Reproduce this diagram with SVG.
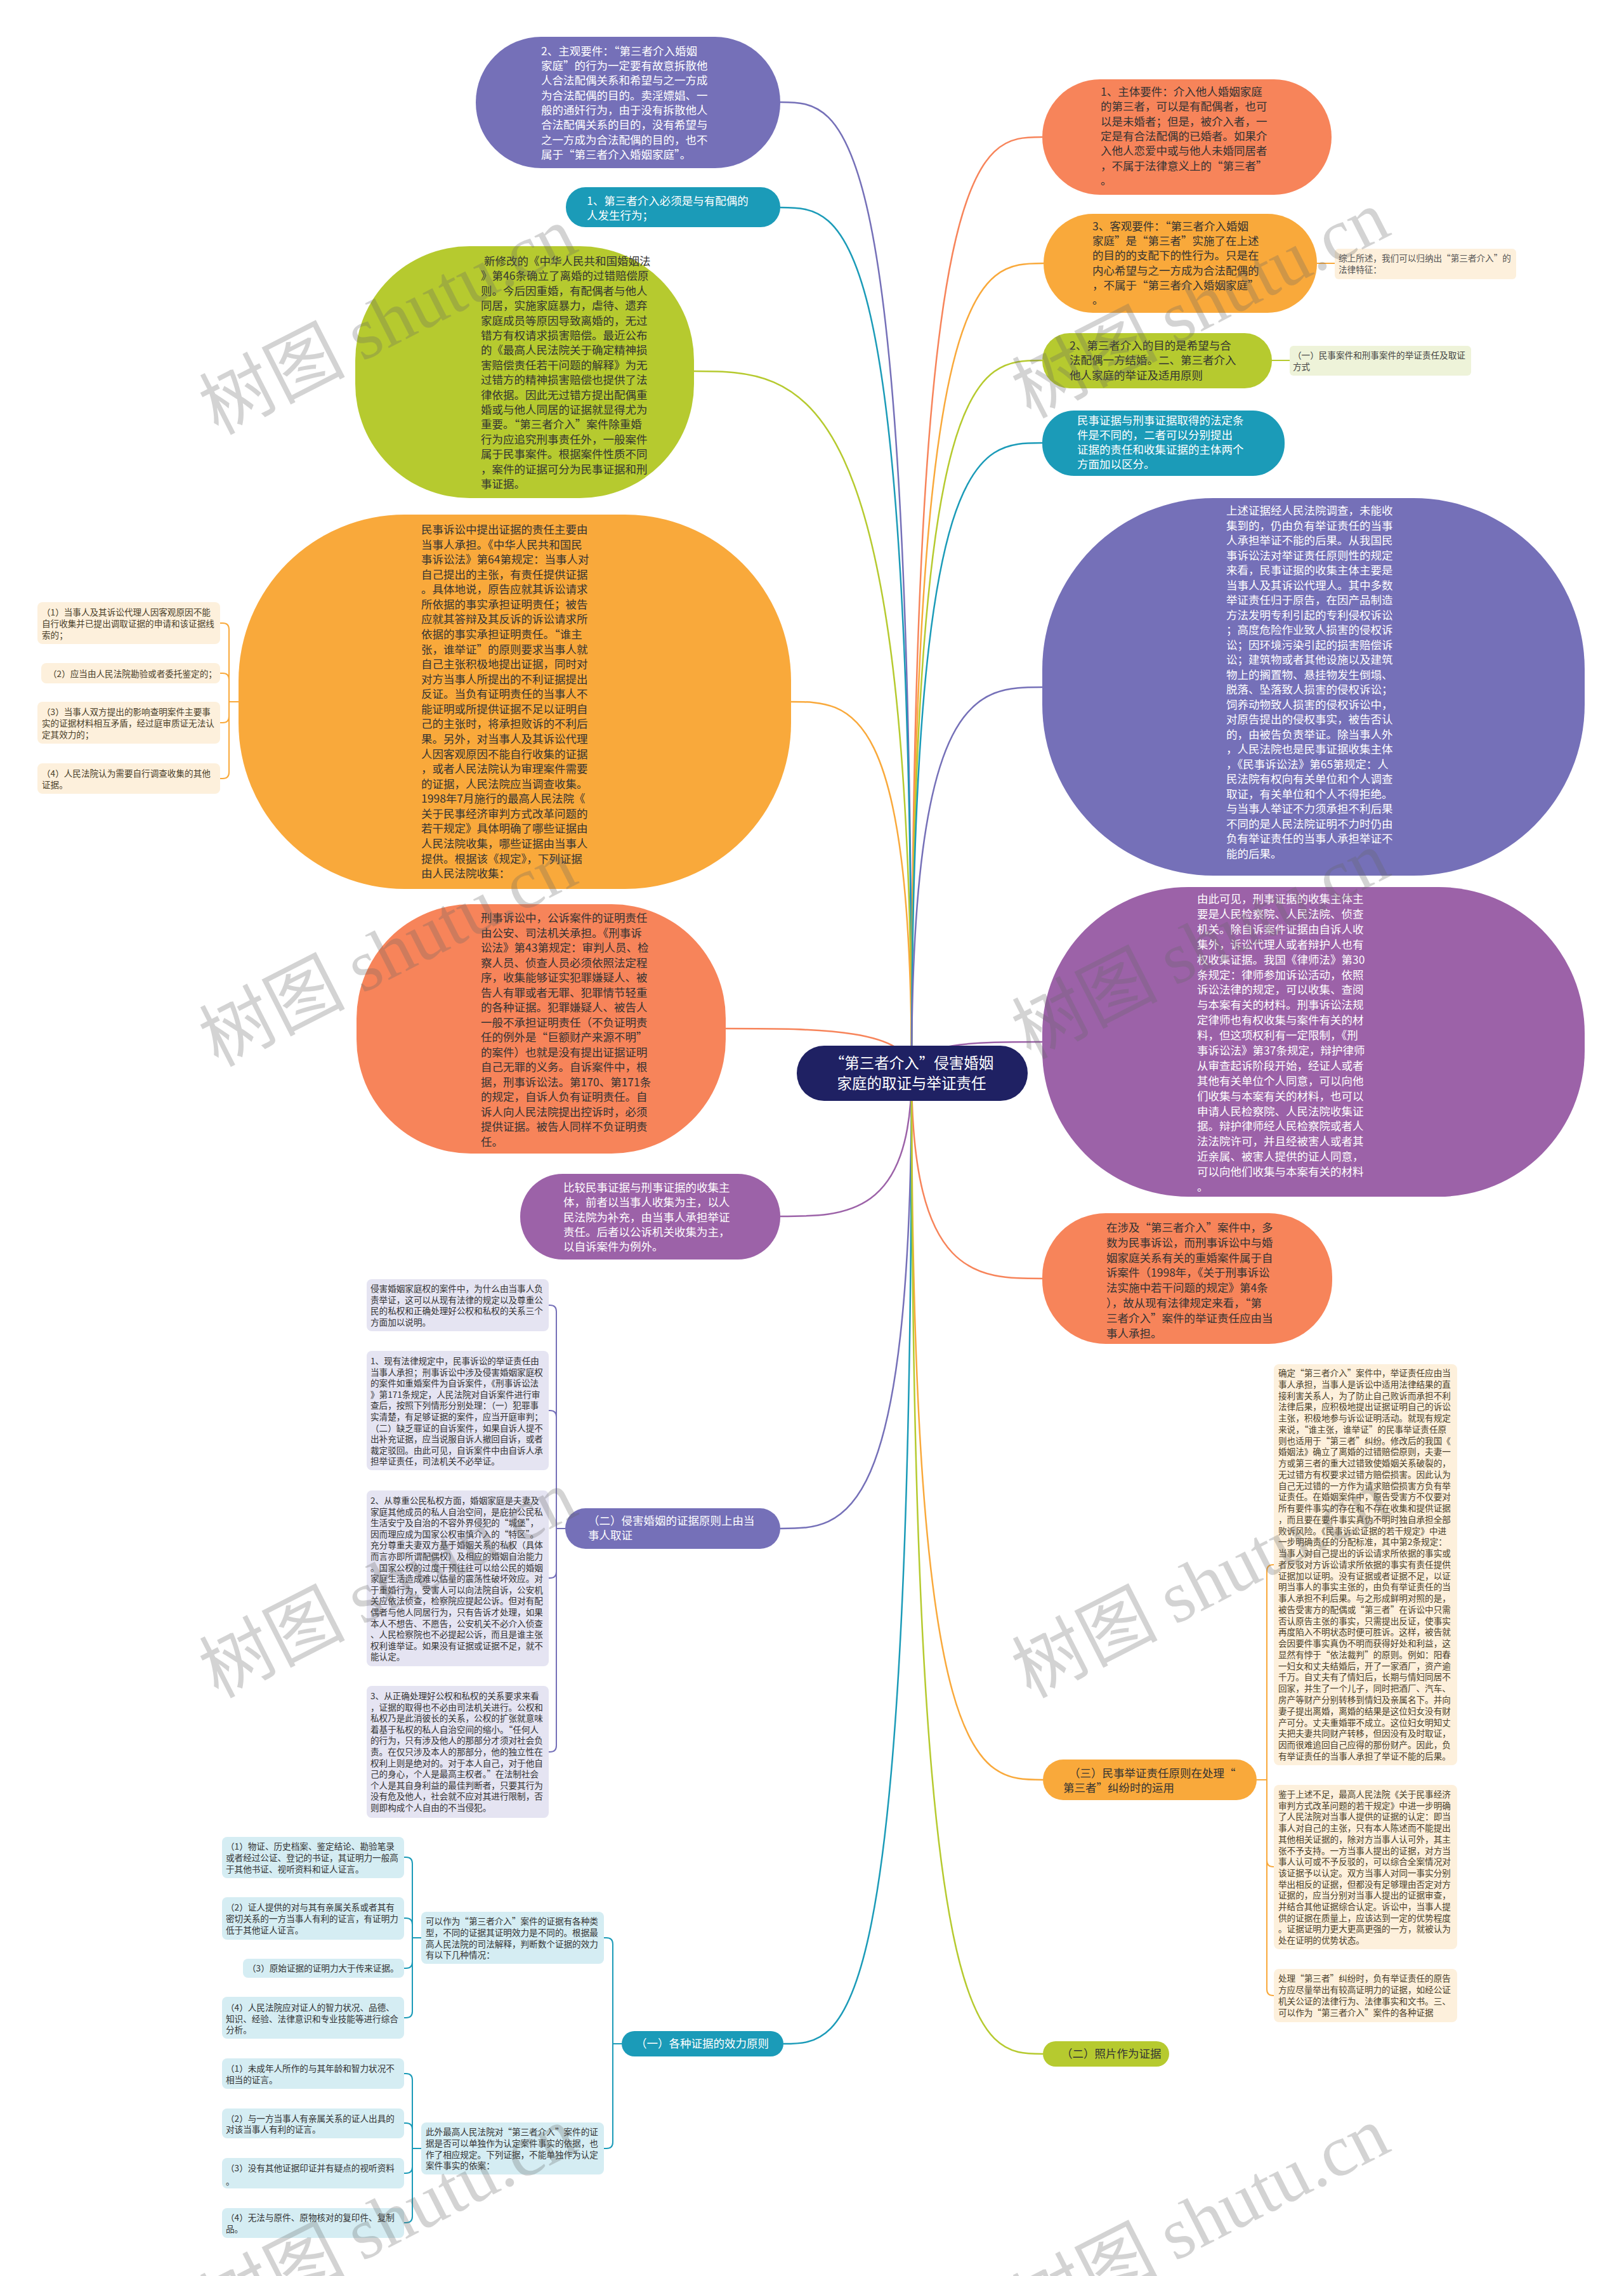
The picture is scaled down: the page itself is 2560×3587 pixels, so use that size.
<svg xmlns="http://www.w3.org/2000/svg" width="2560" height="3587" viewBox="0 0 2560 3587">
<style>
text{font-family:"Noto Sans CJK SC","Noto Sans",sans-serif}
.b{font-size:17.5px}
.s{font-size:13.6px}
.w{fill:#ffffff}
.d{fill:#333333}
.br{fill:#4a3f2a}
.ln{fill:none;stroke-width:2.5}
.bk{fill:none;stroke-width:2}
.cPB{fill:#7570b8}.sPB{stroke:#7570b8}
.cTL{fill:#1b9bb8}.sTL{stroke:#1b9bb8}
.cGR{fill:#b6ca2f}.sGR{stroke:#b6ca2f}
.cOR{fill:#f9a93b}.sOR{stroke:#f9a93b}
.cRD{fill:#f7845a}.sRD{stroke:#f7845a}
.cPU{fill:#9c62a8}.sPU{stroke:#9c62a8}
.cream{fill:#fdf0dc}
.lav{fill:#e5e4f2}
.lblue{fill:#d5edf3}
.wm{fill:#666666;opacity:0.28;font-size:115px}
</style>
<rect width="2560" height="3587" fill="#ffffff"/>
<g id="connectors">
<path class="ln sPB" d="M1437 1691 C1437 161 1333 161 1230 161"/>
<path class="ln sTL" d="M1437 1691 C1437 327 1333 327 1230 327"/>
<path class="ln sGR" d="M1437 1691 C1437 585 1265 585 1094 585"/>
<path class="ln sOR" d="M1437 1691 C1437 1106 1342 1106 1247 1106"/>
<path class="ln sRD" d="M1437 1691 C1437 1621 1290 1621 1144 1621"/>
<path class="ln sPU" d="M1437 1691 C1437 1917 1333 1917 1230 1917"/>
<path class="ln sPB" d="M1437 1691 C1437 2409 1333 2409 1230 2409"/>
<path class="ln sTL" d="M1437 1691 C1437 3221 1336 3221 1235 3221"/>
<path class="ln sRD" d="M1437 1691 C1437 216 1540 216 1643 216"/>
<path class="ln sOR" d="M1437 1691 C1437 415 1541 415 1645 415"/>
<path class="ln sGR" d="M1437 1691 C1437 568 1540 568 1643 568"/>
<path class="ln sTL" d="M1437 1691 C1437 698 1540 698 1643 698"/>
<path class="ln sPB" d="M1437 1691 C1437 1083 1540 1083 1643 1083"/>
<path class="ln sPU" d="M1437 1691 C1437 1642 1540 1642 1643 1642"/>
<path class="ln sRD" d="M1437 1691 C1437 2015 1540 2015 1643 2015"/>
<path class="ln sOR" d="M1437 1691 C1437 2805 1540 2805 1644 2805"/>
<path class="ln sGR" d="M1437 1691 C1437 3237 1540 3237 1644 3237"/>
<path class="bk sOR" d="M2076 415 L2104 415"/>
<path class="bk sGR" d="M2005 568 L2033 568"/>
<path class="bk sOR" d="M376 1106 H361 V992 Q361 982 351 982 H347"/>
<path class="bk sOR" d="M376 1106 H361 V1071 Q361 1061 351 1061 H347"/>
<path class="bk sOR" d="M376 1106 H361 V1129 Q361 1139 351 1139 H347"/>
<path class="bk sOR" d="M376 1106 H361 V1217 Q361 1227 351 1227 H347"/>
<path class="bk sPB" d="M891 2409 H877 V2067 Q877 2057 867 2057 H865"/>
<path class="bk sPB" d="M891 2409 H877 V2233 Q877 2223 867 2223 H865"/>
<path class="bk sPB" d="M891 2409 H877 V2477 Q877 2487 867 2487 H865"/>
<path class="bk sPB" d="M891 2409 H877 V2751 Q877 2761 867 2761 H865"/>
<path class="bk sOR" d="M1981 2805 H1997 V2476 Q1997 2466 2007 2466 H2009"/>
<path class="bk sOR" d="M1981 2805 H1997 V2932 Q1997 2942 2007 2942 H2009"/>
<path class="bk sOR" d="M1981 2805 H1997 V3135 Q1997 3145 2007 3145 H2009"/>
<path class="bk sTL" d="M980 3221 H966 V3064 Q966 3054 956 3054 H952"/>
<path class="bk sTL" d="M980 3221 H966 V3376 Q966 3386 956 3386 H952"/>
<path class="bk sTL" d="M664 3054 H650 V2937 Q650 2927 640 2927 H637"/>
<path class="bk sTL" d="M664 3054 H650 V3033 Q650 3023 640 3023 H637"/>
<path class="bk sTL" d="M664 3054 H650 V3092 Q650 3102 640 3102 H637"/>
<path class="bk sTL" d="M664 3054 H650 V3170 Q650 3180 640 3180 H637"/>
<path class="bk sTL" d="M664 3386 H650 V3278 Q650 3268 640 3268 H637"/>
<path class="bk sTL" d="M664 3386 H650 V3356 Q650 3346 640 3346 H637"/>
<path class="bk sTL" d="M664 3386 H650 V3415 Q650 3425 640 3425 H637"/>
<path class="bk sTL" d="M664 3386 H650 V3493 Q650 3503 640 3503 H637"/>
</g>

<g id="root">
<rect x="1256" y="1648" width="364" height="87" rx="43" fill="#1f2163"/>
<text class="w" font-size="23.5" text-anchor="middle"><tspan x="1437" y="1684">“第三者介入”侵害婚姻</tspan><tspan x="1437" y="1716">家庭的取证与举证责任</tspan></text>
</g>

<g id="n-subjective">
<rect class="cPB" x="750" y="58" width="480" height="207" rx="103"/>
<text class="b w"><tspan x="853" y="87">2、主观要件：“第三者介入婚姻</tspan><tspan x="853" y="110">家庭”的行为一定要有故意拆散他</tspan><tspan x="853" y="133">人合法配偶关系和希望与之一方成</tspan><tspan x="853" y="157">为合法配偶的目的。卖淫嫖娼、一</tspan><tspan x="853" y="180">般的通奸行为，由于没有拆散他人</tspan><tspan x="853" y="203">合法配偶关系的目的，没有希望与</tspan><tspan x="853" y="227">之一方成为合法配偶的目的，也不</tspan><tspan x="853" y="250">属于“第三者介入婚姻家庭”。</tspan></text>
</g>

<g id="n-married">
<rect class="cTL" x="892" y="295" width="338" height="63" rx="31"/>
<text class="b w"><tspan x="925" y="323">1、第三者介入必须是与有配偶的</tspan><tspan x="925" y="346">人发生行为；</tspan></text>
</g>

<g id="n-marriagelaw">
<rect class="cGR" x="560" y="388" width="534" height="397" rx="180"/>
<text class="b d"><tspan x="763" y="418">新修改的《中华人民共和国婚姻法</tspan><tspan x="758" y="441">》第46条确立了离婚的过错赔偿原</tspan><tspan x="758" y="465">则。今后因重婚，有配偶者与他人</tspan><tspan x="758" y="488">同居，实施家庭暴力，虐待、遗弃</tspan><tspan x="758" y="512">家庭成员等原因导致离婚的，无过</tspan><tspan x="758" y="535">错方有权请求损害赔偿。最近公布</tspan><tspan x="758" y="558">的《最高人民法院关于确定精神损</tspan><tspan x="758" y="582">害赔偿责任若干问题的解释》为无</tspan><tspan x="758" y="605">过错方的精神损害赔偿也提供了法</tspan><tspan x="758" y="629">律依据。因此无过错方提出配偶重</tspan><tspan x="758" y="652">婚或与他人同居的证据就显得尤为</tspan><tspan x="758" y="675">重要。“第三者介入”案件除重婚</tspan><tspan x="758" y="699">行为应追究刑事责任外，一般案件</tspan><tspan x="758" y="722">属于民事案件。根据案件性质不同</tspan><tspan x="758" y="746">，案件的证据可分为民事证据和刑</tspan><tspan x="758" y="769">事证据。</tspan></text>
</g>

<g id="n-civil-burden">
<rect class="cOR" x="376" y="811" width="871" height="590" rx="262"/>
<text class="b d"><tspan x="664" y="841">民事诉讼中提出证据的责任主要由</tspan><tspan x="664" y="865">当事人承担。《中华人民共和国民</tspan><tspan x="664" y="888">事诉讼法》第64第规定：当事人对</tspan><tspan x="664" y="912">自己提出的主张，有责任提供证据</tspan><tspan x="664" y="935">。具体地说，原告应就其诉讼请求</tspan><tspan x="664" y="959">所依据的事实承担证明责任；被告</tspan><tspan x="664" y="982">应就其答辩及其反诉的诉讼请求所</tspan><tspan x="664" y="1006">依据的事实承担证明责任。“谁主</tspan><tspan x="664" y="1030">张，谁举证”的原则要求当事人就</tspan><tspan x="664" y="1053">自己主张积极地提出证据，同时对</tspan><tspan x="664" y="1077">对方当事人所提出的不利证据提出</tspan><tspan x="664" y="1100">反证。当负有证明责任的当事人不</tspan><tspan x="664" y="1124">能证明或所提供证据不足以证明自</tspan><tspan x="664" y="1147">己的主张时，将承担败诉的不利后</tspan><tspan x="664" y="1171">果。另外，对当事人及其诉讼代理</tspan><tspan x="664" y="1195">人因客观原因不能自行收集的证据</tspan><tspan x="664" y="1218">，或者人民法院认为审理案件需要</tspan><tspan x="664" y="1242">的证据，人民法院应当调查收集。</tspan><tspan x="664" y="1265">1998年7月施行的最高人民法院《</tspan><tspan x="664" y="1289">关于民事经济审判方式改革问题的</tspan><tspan x="664" y="1312">若干规定》具体明确了哪些证据由</tspan><tspan x="664" y="1336">人民法院收集，哪些证据由当事人</tspan><tspan x="664" y="1360">提供。根据该《规定》，下列证据</tspan><tspan x="664" y="1383">由人民法院收集：</tspan></text>
</g>

<g id="n-court-collect-1">
<rect class="cream" x="59" y="949" width="288" height="66" rx="8"/>
<text class="s br"><tspan x="66" y="970">（1）当事人及其诉讼代理人因客观原因不能</tspan><tspan x="66" y="988">自行收集并已提出调取证据的申请和该证据线</tspan><tspan x="66" y="1006">索的；</tspan></text>
</g>
<g id="n-court-collect-2">
<rect class="cream" x="65" y="1045" width="282" height="32" rx="8"/>
<text class="s br"><tspan x="76" y="1067">（2）应当由人民法院勘验或者委托鉴定的；</tspan></text>
</g>
<g id="n-court-collect-3">
<rect class="cream" x="59" y="1106" width="288" height="66" rx="8"/>
<text class="s br"><tspan x="66" y="1127">（3）当事人双方提出的影响查明案件主要事</tspan><tspan x="66" y="1145">实的证据材料相互矛盾，经过庭审质证无法认</tspan><tspan x="66" y="1163">定其效力的；</tspan></text>
</g>
<g id="n-court-collect-4">
<rect class="cream" x="59" y="1203" width="288" height="48" rx="8"/>
<text class="s br"><tspan x="66" y="1224">（4）人民法院认为需要自行调查收集的其他</tspan><tspan x="66" y="1242">证据。</tspan></text>
</g>

<g id="n-criminal-burden">
<rect class="cRD" x="562" y="1425" width="582" height="393" rx="180"/>
<text class="b d"><tspan x="758" y="1453">刑事诉讼中，公诉案件的证明责任</tspan><tspan x="758" y="1477">由公安、司法机关承担。《刑事诉</tspan><tspan x="758" y="1500">讼法》第43第规定：审判人员、检</tspan><tspan x="758" y="1524">察人员、侦查人员必须依照法定程</tspan><tspan x="758" y="1547">序，收集能够证实犯罪嫌疑人、被</tspan><tspan x="758" y="1571">告人有罪或者无罪、犯罪情节轻重</tspan><tspan x="758" y="1594">的各种证据。犯罪嫌疑人、被告人</tspan><tspan x="758" y="1618">一般不承担证明责任（不负证明责</tspan><tspan x="758" y="1641">任的例外是“巨额财产来源不明”</tspan><tspan x="758" y="1665">的案件）也就是没有提出证据证明</tspan><tspan x="758" y="1688">自己无罪的义务。自诉案件中，根</tspan><tspan x="758" y="1712">据，刑事诉讼法。第170、第171条</tspan><tspan x="758" y="1735">的规定，自诉人负有证明责任。自</tspan><tspan x="758" y="1759">诉人向人民法院提出控诉时，必须</tspan><tspan x="758" y="1782">提供证据。被告人同样不负证明责</tspan><tspan x="758" y="1806">任。</tspan></text>
</g>

<g id="n-compare">
<rect class="cPU" x="820" y="1850" width="410" height="135" rx="67"/>
<text class="b w"><tspan x="888" y="1878">比较民事证据与刑事证据的收集主</tspan><tspan x="888" y="1901">体，前者以当事人收集为主，以人</tspan><tspan x="888" y="1925">民法院为补充，由当事人承担举证</tspan><tspan x="888" y="1948">责任。后者以公诉机关收集为主，</tspan><tspan x="888" y="1971">以自诉案件为例外。</tspan></text>
</g>

<g id="n-subject-req">
<rect class="cRD" x="1643" y="125" width="456" height="182" rx="91"/>
<text class="b d"><tspan x="1735" y="151">1、主体要件：介入他人婚姻家庭</tspan><tspan x="1735" y="174">的第三者，可以是有配偶者，也可</tspan><tspan x="1735" y="198">以是未婚者；但是，被介入者，一</tspan><tspan x="1735" y="221">定是有合法配偶的已婚者。如果介</tspan><tspan x="1735" y="244">入他人恋爱中或与他人未婚同居者</tspan><tspan x="1735" y="268">，不属于法律意义上的“第三者”</tspan><tspan x="1735" y="291">。</tspan></text>
</g>

<g id="n-objective">
<rect class="cOR" x="1645" y="337" width="431" height="156" rx="78"/>
<text class="b d"><tspan x="1722" y="363">3、客观要件：“第三者介入婚姻</tspan><tspan x="1722" y="386">家庭”是“第三者”实施了在上述</tspan><tspan x="1722" y="409">的目的的支配下的性行为。只是在</tspan><tspan x="1722" y="433">内心希望与之一方成为合法配偶的</tspan><tspan x="1722" y="456">，不属于“第三者介入婚姻家庭”</tspan><tspan x="1722" y="479">。</tspan></text>
</g>
<g id="n-summary">
<rect class="cream" x="2104" y="392" width="286" height="48" rx="6"/>
<text class="s" fill="#555555"><tspan x="2110" y="412">综上所述，我们可以归纳出“第三者介入”的</tspan><tspan x="2110" y="430">法律特征：</tspan></text>
</g>

<g id="n-purpose">
<rect class="cGR" x="1643" y="525" width="362" height="87" rx="43"/>
<text class="b d"><tspan x="1686" y="551">2、第三者介入的目的是希望与合</tspan><tspan x="1686" y="574">法配偶一方结婚。二、第三者介入</tspan><tspan x="1686" y="598">他人家庭的举证及适用原则</tspan></text>
</g>
<g id="n-civil-criminal">
<rect x="2033" y="545" width="286" height="47" rx="6" fill="#eef3d9"/>
<text class="s" fill="#444444"><tspan x="2038" y="565">（一）民事案件和刑事案件的举证责任及取证</tspan><tspan x="2038" y="583">方式</tspan></text>
</g>

<g id="n-different">
<rect class="cTL" x="1643" y="647" width="382" height="103" rx="50"/>
<text class="b w"><tspan x="1698" y="669">民事证据与刑事证据取得的法定条</tspan><tspan x="1698" y="692">件是不同的，二者可以分别提出</tspan><tspan x="1698" y="715">证据的责任和收集证据的主体两个</tspan><tspan x="1698" y="738">方面加以区分。</tspan></text>
</g>

<g id="n-court-investigate">
<rect class="cPB" x="1643" y="785" width="855" height="595" rx="270"/>
<text class="b w"><tspan x="1933" y="811">上述证据经人民法院调查，未能收</tspan><tspan x="1933" y="835">集到的，仍由负有举证责任的当事</tspan><tspan x="1933" y="858">人承担举证不能的后果。从我国民</tspan><tspan x="1933" y="882">事诉讼法对举证责任原则性的规定</tspan><tspan x="1933" y="905">来看，民事证据的收集主体主要是</tspan><tspan x="1933" y="929">当事人及其诉讼代理人。其中多数</tspan><tspan x="1933" y="952">举证责任归于原告，在因产品制造</tspan><tspan x="1933" y="976">方法发明专利引起的专利侵权诉讼</tspan><tspan x="1933" y="999">；高度危险作业致人损害的侵权诉</tspan><tspan x="1933" y="1023">讼；因环境污染引起的损害赔偿诉</tspan><tspan x="1933" y="1046">讼；建筑物或者其他设施以及建筑</tspan><tspan x="1933" y="1070">物上的搁置物、悬挂物发生倒塌、</tspan><tspan x="1933" y="1093">脱落、坠落致人损害的侵权诉讼；</tspan><tspan x="1933" y="1117">饲养动物致人损害的侵权诉讼中，</tspan><tspan x="1933" y="1140">对原告提出的侵权事实，被告否认</tspan><tspan x="1933" y="1164">的，由被告负责举证。除当事人外</tspan><tspan x="1933" y="1187">，人民法院也是民事证据收集主体</tspan><tspan x="1933" y="1211">，《民事诉讼法》第65第规定：人</tspan><tspan x="1933" y="1234">民法院有权向有关单位和个人调查</tspan><tspan x="1933" y="1258">取证，有关单位和个人不得拒绝。</tspan><tspan x="1933" y="1281">与当事人举证不力须承担不利后果</tspan><tspan x="1933" y="1305">不同的是人民法院证明不力时仍由</tspan><tspan x="1933" y="1328">负有举证责任的当事人承担举证不</tspan><tspan x="1933" y="1352">能的后果。</tspan></text>
</g>

<g id="n-criminal-subject">
<rect class="cPU" x="1643" y="1398" width="855" height="488" rx="230"/>
<text class="b w"><tspan x="1887" y="1423">由此可见，刑事证据的收集主体主</tspan><tspan x="1887" y="1447">要是人民检察院、人民法院、侦查</tspan><tspan x="1887" y="1471">机关。除自诉案件证据由自诉人收</tspan><tspan x="1887" y="1495">集外，诉讼代理人或者辩护人也有</tspan><tspan x="1887" y="1519">权收集证据。我国《律师法》第30</tspan><tspan x="1887" y="1543">条规定：律师参加诉讼活动，依照</tspan><tspan x="1887" y="1566">诉讼法律的规定，可以收集、查阅</tspan><tspan x="1887" y="1590">与本案有关的材料。刑事诉讼法规</tspan><tspan x="1887" y="1614">定律师也有权收集与案件有关的材</tspan><tspan x="1887" y="1638">料，但这项权利有一定限制，《刑</tspan><tspan x="1887" y="1662">事诉讼法》第37条规定，辩护律师</tspan><tspan x="1887" y="1686">从审查起诉阶段开始，经证人或者</tspan><tspan x="1887" y="1710">其他有关单位个人同意，可以向他</tspan><tspan x="1887" y="1734">们收集与本案有关的材料，也可以</tspan><tspan x="1887" y="1758">申请人民检察院、人民法院收集证</tspan><tspan x="1887" y="1781">据。辩护律师经人民检察院或者人</tspan><tspan x="1887" y="1805">法法院许可，并且经被害人或者其</tspan><tspan x="1887" y="1829">近亲属、被害人提供的证人同意，</tspan><tspan x="1887" y="1853">可以向他们收集与本案有关的材料</tspan><tspan x="1887" y="1877">。</tspan></text>
</g>

<g id="n-third-party-cases">
<rect class="cRD" x="1643" y="1912" width="457" height="206" rx="100"/>
<text class="b d"><tspan x="1744" y="1941">在涉及“第三者介入”案件中，多</tspan><tspan x="1744" y="1965">数为民事诉讼，而刑事诉讼中与婚</tspan><tspan x="1744" y="1989">姻家庭关系有关的重婚案件属于自</tspan><tspan x="1744" y="2012">诉案件（1998年，《关于刑事诉讼</tspan><tspan x="1744" y="2036">法实施中若干问题的规定》第4条</tspan><tspan x="1744" y="2060">），故从现有法律规定来看，“第</tspan><tspan x="1744" y="2084">三者介入”案件的举证责任应由当</tspan><tspan x="1744" y="2108">事人承担。</tspan></text>
</g>

<g id="n-party-collect">
<rect class="cPB" x="891" y="2377" width="339" height="64" rx="32"/>
<text class="b w"><tspan x="927" y="2403">（二）侵害婚姻的证据原则上由当</tspan><tspan x="927" y="2426">事人取证</tspan></text>
</g>
<g id="n-why">
<rect class="lav" x="578" y="2016" width="287" height="82" rx="8"/>
<text class="s d"><tspan x="584" y="2036">侵害婚姻家庭权的案件中，为什么由当事人负</tspan><tspan x="584" y="2054">责举证，这可以从现有法律的规定以及尊重公</tspan><tspan x="584" y="2071">民的私权和正确处理好公权和私权的关系三个</tspan><tspan x="584" y="2089">方面加以说明。</tspan></text>
</g>
<g id="n-law-now">
<rect class="lav" x="578" y="2129" width="287" height="188" rx="8"/>
<text class="s d"><tspan x="584" y="2150">1、现有法律规定中，民事诉讼的举证责任由</tspan><tspan x="584" y="2168">当事人承担；刑事诉讼中涉及侵害婚姻家庭权</tspan><tspan x="584" y="2185">的案件如重婚案件为自诉案件，《刑事诉讼法</tspan><tspan x="584" y="2203">》第171条规定，人民法院对自诉案件进行审</tspan><tspan x="584" y="2220">查后，按照下列情形分别处理：（一）犯罪事</tspan><tspan x="584" y="2238">实清楚，有足够证据的案件，应当开庭审判；</tspan><tspan x="584" y="2256">（二）缺乏罪证的自诉案件，如果自诉人提不</tspan><tspan x="584" y="2273">出补充证据，应当说服自诉人撤回自诉，或者</tspan><tspan x="584" y="2291">裁定驳回。由此可见，自诉案件中由自诉人承</tspan><tspan x="584" y="2308">担举证责任，司法机关不必举证。</tspan></text>
</g>
<g id="n-private-right">
<rect class="lav" x="578" y="2349" width="287" height="277" rx="8"/>
<text class="s d"><tspan x="584" y="2370">2、从尊重公民私权方面，婚姻家庭是夫妻及</tspan><tspan x="584" y="2388">家庭其他成员的私人自治空间，是庇护公民私</tspan><tspan x="584" y="2405">生活安宁及自治的不容外界侵犯的“城堡”，</tspan><tspan x="584" y="2423">因而理应成为国家公权审慎介入的“特区”。</tspan><tspan x="584" y="2440">充分尊重夫妻双方基于婚姻关系的私权（具体</tspan><tspan x="584" y="2458">而言亦即所谓配偶权）及相应的婚姻自治能力</tspan><tspan x="584" y="2476">。国家公权的过度干预往往可以给公民的婚姻</tspan><tspan x="584" y="2493">家庭生活造成难以估量的震荡性破坏效应。对</tspan><tspan x="584" y="2511">于重婚行为，受害人可以向法院自诉，公安机</tspan><tspan x="584" y="2528">关应依法侦查，检察院应提起公诉。但对有配</tspan><tspan x="584" y="2546">偶者与他人同居行为，只有告诉才处理，如果</tspan><tspan x="584" y="2564">本人不想告、不愿告，公安机关不必介入侦查</tspan><tspan x="584" y="2581">、人民检察院也不必提起公诉，而且是谁主张</tspan><tspan x="584" y="2599">权利谁举证。如果没有证据或证据不足，就不</tspan><tspan x="584" y="2616">能认定。</tspan></text>
</g>
<g id="n-public-private">
<rect class="lav" x="578" y="2657" width="287" height="208" rx="8"/>
<text class="s d"><tspan x="584" y="2678">3、从正确处理好公权和私权的关系要求来看</tspan><tspan x="584" y="2696">，证据的取得也不必由司法机关进行。公权和</tspan><tspan x="584" y="2713">私权乃是此消彼长的关系，公权的扩张就意味</tspan><tspan x="584" y="2731">着基于私权的私人自治空间的缩小。“任何人</tspan><tspan x="584" y="2748">的行为，只有涉及他人的那部分才须对社会负</tspan><tspan x="584" y="2766">责。在仅只涉及本人的那部分，他的独立性在</tspan><tspan x="584" y="2784">权利上则是绝对的。对于本人自己，对于他自</tspan><tspan x="584" y="2801">己的身心，个人是最高主权者。”在法制社会</tspan><tspan x="584" y="2819">个人是其自身利益的最佳判断者，只要其行为</tspan><tspan x="584" y="2836">没有危及他人，社会就不应对其进行限制，否</tspan><tspan x="584" y="2854">则即构成个人自由的不当侵犯。</tspan></text>
</g>

<g id="n-civil-principle">
<rect class="cOR" x="1644" y="2773" width="337" height="64" rx="32"/>
<text class="b d"><tspan x="1685" y="2801">（三）民事举证责任原则在处理“</tspan><tspan x="1676" y="2824">第三者”纠纷时的运用</tspan></text>
</g>
<g id="n-confirm">
<rect class="cream" x="2008" y="2150" width="289" height="632" rx="8"/>
<text class="s br"><tspan x="2015" y="2169">确定“第三者介入”案件中，举证责任应由当</tspan><tspan x="2015" y="2187">事人承担，当事人是诉讼中适用法律结果的直</tspan><tspan x="2015" y="2205">接利害关系人，为了防止自己败诉而承担不利</tspan><tspan x="2015" y="2222">法律后果，应积极地提出证据证明自己的诉讼</tspan><tspan x="2015" y="2240">主张，积极地参与诉讼证明活动。就现有规定</tspan><tspan x="2015" y="2258">来说，“谁主张，谁举证”的民事举证责任原</tspan><tspan x="2015" y="2276">则也适用于“第三者”纠纷。修改后的我国《</tspan><tspan x="2015" y="2293">婚姻法》确立了离婚的过错赔偿原则，夫妻一</tspan><tspan x="2015" y="2311">方或第三者的重大过错致使婚姻关系破裂的，</tspan><tspan x="2015" y="2329">无过错方有权要求过错方赔偿损害。因此认为</tspan><tspan x="2015" y="2347">自己无过错的一方作为请求赔偿损害方负有举</tspan><tspan x="2015" y="2364">证责任。在婚姻案件中，原告受害方不仅要对</tspan><tspan x="2015" y="2382">所有要件事实的存在和不存在收集和提供证据</tspan><tspan x="2015" y="2400">，而且要在要件事实真伪不明时独自承担全部</tspan><tspan x="2015" y="2418">败诉风险。《民事诉讼证据的若干规定》中进</tspan><tspan x="2015" y="2435">一步明确责任的分配标准，其中第2条规定：</tspan><tspan x="2015" y="2453">当事人对自己提出的诉讼请求所依据的事实或</tspan><tspan x="2015" y="2471">者反驳对方诉讼请求所依据的事实有责任提供</tspan><tspan x="2015" y="2489">证据加以证明。没有证据或者证据不足，以证</tspan><tspan x="2015" y="2506">明当事人的事实主张的，由负有举证责任的当</tspan><tspan x="2015" y="2524">事人承担不利后果。与之形成鲜明对照的是，</tspan><tspan x="2015" y="2542">被告受害方的配偶或“第三者”在诉讼中只需</tspan><tspan x="2015" y="2560">否认原告主张的事实，只需提出反证，使事实</tspan><tspan x="2015" y="2577">再度陷入不明状态时便可胜诉。这样，被告就</tspan><tspan x="2015" y="2595">会因要件事实真伪不明而获得好处和利益，这</tspan><tspan x="2015" y="2613">显然有悖于“依法裁判”的原则。例如：阳春</tspan><tspan x="2015" y="2631">一妇女和丈夫结婚后，开了一家酒厂，资产逾</tspan><tspan x="2015" y="2648">千万。自丈夫有了情妇后，长期与情妇同居不</tspan><tspan x="2015" y="2666">回家，并生了一个儿子，同时把酒厂、汽车、</tspan><tspan x="2015" y="2684">房产等财产分别转移到情妇及亲属名下。并向</tspan><tspan x="2015" y="2702">妻子提出离婚，离婚的结果是这位妇女没有财</tspan><tspan x="2015" y="2720">产可分。丈夫重婚罪不成立。这位妇女明知丈</tspan><tspan x="2015" y="2737">夫把夫妻共同财产转移，但因没有及时取证，</tspan><tspan x="2015" y="2755">因而很难追回自己应得的那份财产。因此，负</tspan><tspan x="2015" y="2773">有举证责任的当事人承担了举证不能的后果。</tspan></text>
</g>
<g id="n-supreme">
<rect class="cream" x="2008" y="2813" width="289" height="259" rx="8"/>
<text class="s br"><tspan x="2015" y="2833">鉴于上述不足，最高人民法院《关于民事经济</tspan><tspan x="2015" y="2851">审判方式改革问题的若干规定》中进一步明确</tspan><tspan x="2015" y="2868">了人民法院对当事人提供的证据的认定：即当</tspan><tspan x="2015" y="2886">事人对自己的主张，只有本人陈述而不能提出</tspan><tspan x="2015" y="2904">其他相关证据的，除对方当事人认可外，其主</tspan><tspan x="2015" y="2922">张不予支持。一方当事人提出的证据，对方当</tspan><tspan x="2015" y="2939">事人认可或不予反驳的，可以综合全案情况对</tspan><tspan x="2015" y="2957">该证据予以认定。双方当事人对同一事实分别</tspan><tspan x="2015" y="2975">举出相反的证据，但都没有足够理由否定对方</tspan><tspan x="2015" y="2992">证据的，应当分别对当事人提出的证据审查，</tspan><tspan x="2015" y="3010">并结合其他证据综合认定。诉讼中，当事人提</tspan><tspan x="2015" y="3028">供的证据在质量上，应该达到一定的优势程度</tspan><tspan x="2015" y="3045">。证据证明力更大更高更强的一方，就被认为</tspan><tspan x="2015" y="3063">处在证明的优势状态。</tspan></text>
</g>
<g id="n-handle">
<rect class="cream" x="2008" y="3103" width="289" height="84" rx="8"/>
<text class="s br"><tspan x="2015" y="3123">处理“第三者”纠纷时，负有举证责任的原告</tspan><tspan x="2015" y="3141">方应尽量举出有较高证明力的证据，如经公证</tspan><tspan x="2015" y="3159">机关公证的法律行为、法律事实和文书。三、</tspan><tspan x="2015" y="3177">可以作为“第三者介入”案件的各种证据</tspan></text>
</g>

<g id="n-photo">
<rect class="cGR" x="1644" y="3217" width="199" height="40" rx="20"/>
<text class="b d"><tspan x="1673" y="3243">（二）照片作为证据</tspan></text>
</g>

<g id="n-effect">
<rect class="cTL" x="980" y="3201" width="255" height="40" rx="20"/>
<text class="b w" text-anchor="middle"><tspan x="1107" y="3227">（一）各种证据的效力原则</tspan></text>
</g>
<g id="n-types">
<rect class="lblue" x="664" y="3013" width="288" height="82" rx="8"/>
<text class="s d"><tspan x="671" y="3033">可以作为“第三者介入”案件的证据有各种类</tspan><tspan x="671" y="3051">型，不同的证据其证明效力是不同的。根据最</tspan><tspan x="671" y="3069">高人民法院的司法解释，判断数个证据的效力</tspan><tspan x="671" y="3086">有以下几种情况：</tspan></text>
</g>
<g id="n-not-alone">
<rect class="lblue" x="664" y="3345" width="288" height="82" rx="8"/>
<text class="s d"><tspan x="671" y="3365">此外最高人民法院对“第三者介入”案件的证</tspan><tspan x="671" y="3383">据是否可以单独作为认定案件事实的依据，也</tspan><tspan x="671" y="3401">作了相应规定。下列证据，不能单独作为认定</tspan><tspan x="671" y="3418">案件事实的依案：</tspan></text>
</g>
<g id="n-f1">
<rect class="lblue" x="350" y="2895" width="287" height="65" rx="8"/>
<text class="s d"><tspan x="356" y="2915">（1）物证、历史档案、鉴定结论、勘验笔录</tspan><tspan x="356" y="2933">或者经过公证、登记的书证，其证明力一般高</tspan><tspan x="356" y="2951">于其他书证、视听资料和证人证言。</tspan></text>
</g>
<g id="n-f2">
<rect class="lblue" x="350" y="2990" width="287" height="67" rx="8"/>
<text class="s d"><tspan x="356" y="3011">（2）证人提供的对与其有亲属关系或者其有</tspan><tspan x="356" y="3029">密切关系的一方当事人有利的证言，有证明力</tspan><tspan x="356" y="3047">低于其他证人证言。</tspan></text>
</g>
<g id="n-f3">
<rect class="lblue" x="383" y="3087" width="254" height="30" rx="8"/>
<text class="s d"><tspan x="390" y="3107">（3）原始证据的证明力大于传来证据。</tspan></text>
</g>
<g id="n-f4">
<rect class="lblue" x="350" y="3147" width="287" height="66" rx="8"/>
<text class="s d"><tspan x="356" y="3169">（4）人民法院应对证人的智力状况、品德、</tspan><tspan x="356" y="3187">知识、经验、法律意识和专业技能等进行综合</tspan><tspan x="356" y="3204">分析。</tspan></text>
</g>
<g id="n-g1">
<rect class="lblue" x="350" y="3244" width="287" height="48" rx="8"/>
<text class="s d"><tspan x="356" y="3265">（1）未成年人所作的与其年龄和智力状况不</tspan><tspan x="356" y="3283">相当的证言。</tspan></text>
</g>
<g id="n-g2">
<rect class="lblue" x="350" y="3323" width="287" height="47" rx="8"/>
<text class="s d"><tspan x="356" y="3344">（2）与一方当事人有亲属关系的证人出具的</tspan><tspan x="356" y="3361">对该当事人有利的证言。</tspan></text>
</g>
<g id="n-g3">
<rect class="lblue" x="350" y="3401" width="287" height="48" rx="8"/>
<text class="s d"><tspan x="356" y="3422">（3）没有其他证据印证并有疑点的视听资料</tspan><tspan x="356" y="3443">。</tspan></text>
</g>
<g id="n-g4">
<rect class="lblue" x="350" y="3480" width="287" height="47" rx="8"/>
<text class="s d"><tspan x="356" y="3500">（4）无法与原件、原物核对的复印件、复制</tspan><tspan x="356" y="3518">品。</tspan></text>
</g>

<g id="watermarks">
<text class="wm" transform="translate(343 686) rotate(-27)"><tspan>树图 </tspan><tspan font-family="Liberation Serif">shutu.cn</tspan></text>
<text class="wm" transform="translate(1624 660) rotate(-27)"><tspan>树图 </tspan><tspan font-family="Liberation Serif">shutu.cn</tspan></text>
<text class="wm" transform="translate(343 1682) rotate(-27)"><tspan>树图 </tspan><tspan font-family="Liberation Serif">shutu.cn</tspan></text>
<text class="wm" transform="translate(1624 1670) rotate(-27)"><tspan>树图 </tspan><tspan font-family="Liberation Serif">shutu.cn</tspan></text>
<text class="wm" transform="translate(343 2677) rotate(-27)"><tspan>树图 </tspan><tspan font-family="Liberation Serif">shutu.cn</tspan></text>
<text class="wm" transform="translate(1624 2677) rotate(-27)"><tspan>树图 </tspan><tspan font-family="Liberation Serif">shutu.cn</tspan></text>
<text class="wm" transform="translate(343 3680) rotate(-27)"><tspan>树图 </tspan><tspan font-family="Liberation Serif">shutu.cn</tspan></text>
<text class="wm" transform="translate(1624 3680) rotate(-27)"><tspan>树图 </tspan><tspan font-family="Liberation Serif">shutu.cn</tspan></text>
</g>
</svg>
